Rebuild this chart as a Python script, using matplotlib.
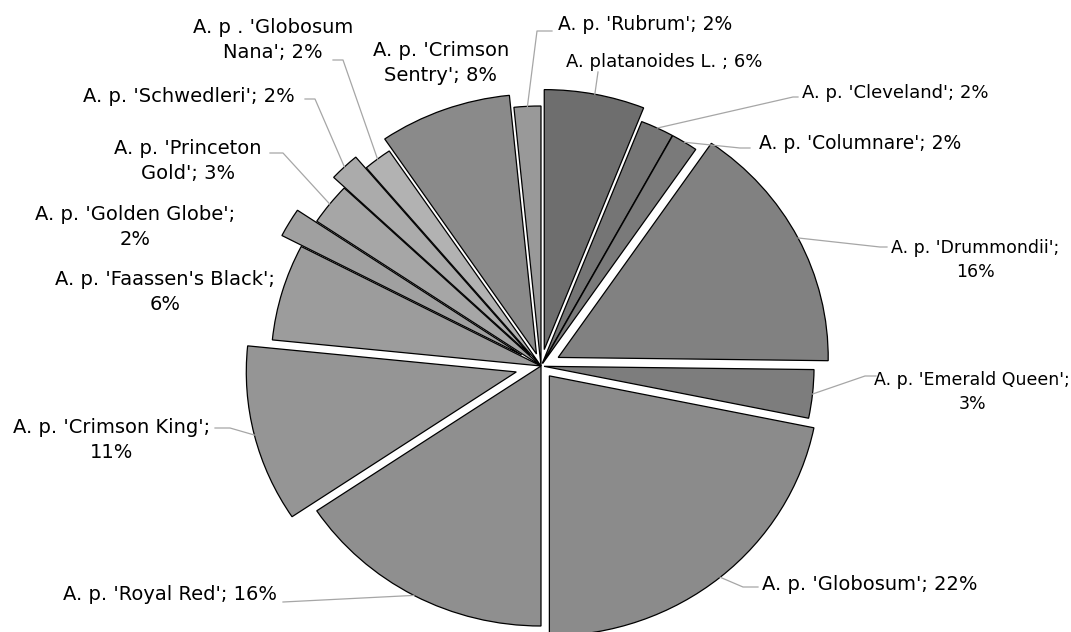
import matplotlib.pyplot as plt
import numpy as np

# cultivar shares (%), clockwise from 12 o'clock
names = [
    "A. platanoides L. ",
    "A. p. 'Cleveland'",
    "A. p. 'Columnare'",
    "A. p. 'Drummondii'",
    "A. p. 'Emerald Queen'",
    "A. p. 'Globosum'",
    "A. p. 'Royal Red'",
    "A. p. 'Crimson King'",
    "A. p. 'Faassen's Black'",
    "A. p. 'Golden Globe'",
    "A. p. 'Princeton\nGold'",
    "A. p. 'Schwedleri'",
    "A. p . 'Globosum\nNana'",
    "A. p. 'Crimson\nSentry'",
    "A. p. 'Rubrum'",
]
shares = [6.0, 2.0, 1.6, 15.6, 3.0, 21.8, 15.6, 11.0, 6.0, 1.8, 2.6, 1.8, 1.7, 7.9, 1.6]
greys = ["#6e6e6e", "#757575", "#7a7a7a", "#818181", "#7d7d7d", "#8b8b8b", "#8f8f8f",
         "#959595", "#9c9c9c", "#a0a0a0", "#a6a6a6", "#ababab", "#b2b2b2", "#8a8a8a", "#999999"]
# labels where the percentage goes on a second line
wrap_pct = {3, 4, 7, 8, 9}

# layout (pixels of the 1071x632 canvas)
CX, CY, RX, RY = 541, 366, 270, 260
explode_px = [17, 3, 3, 19, 3, 13, 0, 25, 0, 22, 0, 15, 0, 13, 0]
label_px = [(664, 62), (895, 93), (860, 143), (975, 260), (972, 392), (870, 584),
            (170, 595), (112, 440), (165, 292), (135, 227), (188, 161), (189, 97),
            (273, 40), (441, 63), (645, 25)]
label_size = [13, 13, 13.5, 12.5, 12.5, 14, 14, 14, 14, 14, 14, 14, 14, 14, 13.5]
leader_px = [
    [(598, 72)],
    [(793, 97), (798, 97)],
    [(740, 148), (750, 148)],
    [(880, 247), (887, 247)],
    [(865, 376), (876, 376)],
    [(743, 587), (758, 587)],
    [(283, 602)],
    [(230, 428), (215, 428)],
    None,
    None,
    [(283, 153), (270, 153)],
    [(315, 99), (305, 99)],
    [(343, 60), (333, 60)],
    None,
    [(537, 31), (552, 31)],
]


def to_data(px, py):
    return (px - CX) / RX, (CY - py) / RY


plt.rcParams["font.family"] = ["DejaVu Sans"]

fig = plt.figure(figsize=(10.71, 6.32), dpi=100)
ax = fig.add_axes([0, 0, 1, 1])

wedges, _ = ax.pie(
    shares,
    colors=greys,
    explode=[e / 265 for e in explode_px],
    startangle=90,
    counterclock=False,
    radius=1,
    wedgeprops=dict(edgecolor="black", linewidth=0.9),
)
ax.set_aspect("auto")
ax.set_xlim(-CX / RX, (1071 - CX) / RX)
ax.set_ylim((CY - 632) / RY, CY / RY)
ax.axis("off")

total = sum(shares)
for i, (w, name, share) in enumerate(zip(wedges, names, shares)):
    pct = share / total * 100
    sep = ";\n" if i in wrap_pct else "; "
    text = f"{name}{sep}{pct:.0f}%"
    tx, ty = to_data(*label_px[i])
    ax.text(tx, ty, text, ha="center", va="center", fontsize=label_size[i],
            linespacing=1.4, color="black")

    if leader_px[i] is not None:
        mid = np.deg2rad((w.theta1 + w.theta2) / 2)
        x0 = w.center[0] + w.r * np.cos(mid)
        y0 = w.center[1] + w.r * np.sin(mid)
        pts = [(x0, y0)] + [to_data(*p) for p in leader_px[i]]
        xs, ys = zip(*pts)
        ax.plot(xs, ys, color="#a6a6a6", lw=0.9)

fig.savefig("out.png", dpi=100)
